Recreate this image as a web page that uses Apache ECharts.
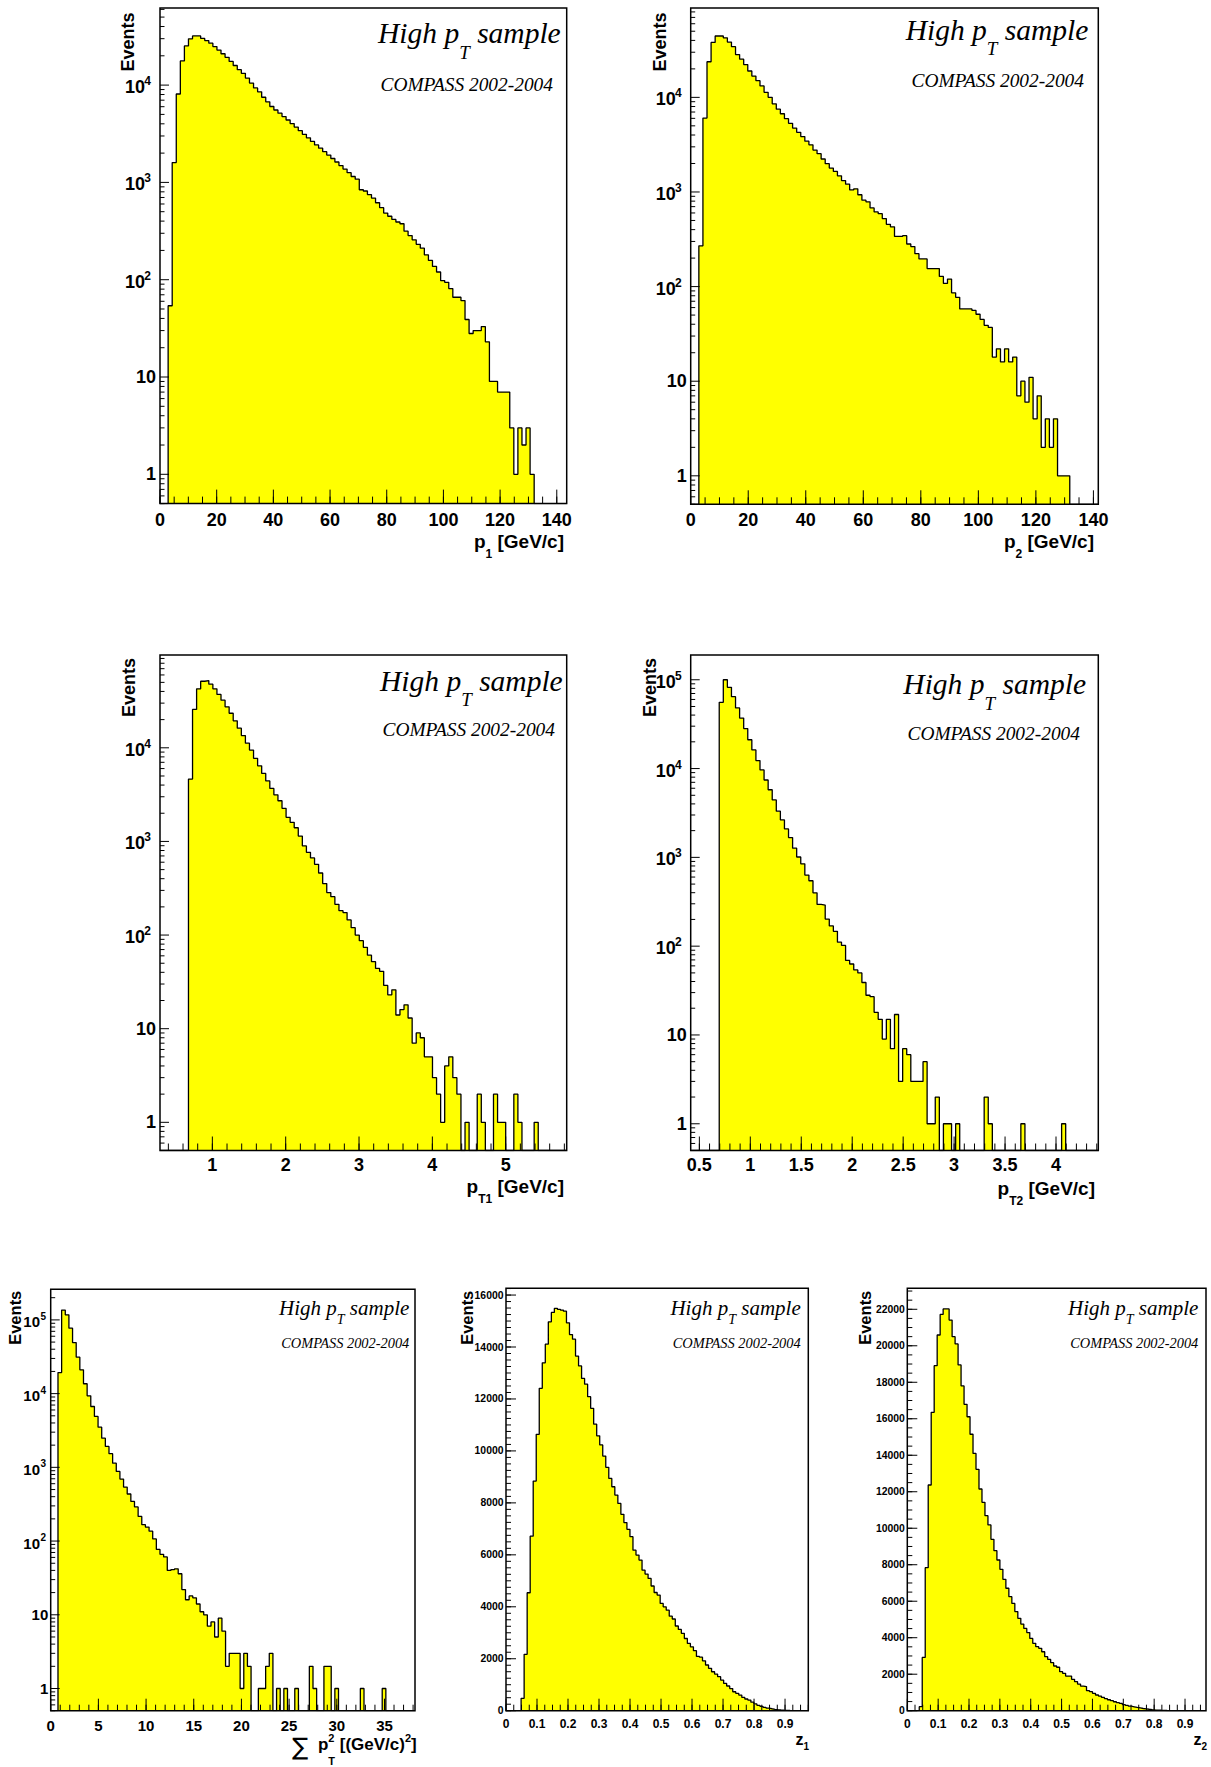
<!DOCTYPE html>
<html>
<head>
<meta charset="utf-8">
<title>High pT sample - COMPASS 2002-2004</title>
<script src="https://cdn.jsdelivr.net/npm/echarts@6/dist/echarts.min.js"></script>
<style>
html,body{margin:0;padding:0;background:#ffffff;}
#chart{width:1211px;height:1767px;}
</style>
</head>
<body>
<div id="chart"></div>
<script>
// ================= DATA (100 bins per histogram) =================
const p1Counts = [
  0, 0, 54, 1600, 8100, 17700, 25300, 29900, 32000, 32000,
  30200, 28700, 27000, 24900, 22900, 21000, 19300, 17500, 15900, 14400,
  13200, 11800, 10500, 9350, 8520, 7500, 6730, 6030, 5550, 5150,
  4750, 4380, 4020, 3700, 3400, 3120, 2870, 2640, 2430, 2250,
  2070, 1910, 1760, 1620, 1490, 1370, 1260, 1150, 1080, 840,
  816, 750, 690, 618, 550, 484, 449, 416, 392, 376,
  315, 284, 257, 231, 211, 180, 158, 137, 120, 98,
  94, 81, 66, 66, 61, 39, 28, 30, 30, 33,
  23, 9, 9, 7, 7, 7, 3, 1, 3, 2,
  3, 1, 0, 0, 0, 0, 0, 0, 0, 0
];
const p2Counts = [
  0, 0, 270, 6040, 23800, 38100, 44500, 44500, 42600, 38400,
  34300, 28300, 25300, 22200, 19000, 16800, 15000, 13200, 11300, 10000,
  8550, 7510, 6710, 5950, 5310, 4740, 4270, 3850, 3440, 3150,
  2770, 2540, 2230, 1990, 1790, 1650, 1480, 1320, 1210, 1050,
  1080, 935, 820, 786, 678, 616, 590, 523, 455, 428,
  339, 339, 345, 282, 265, 223, 196, 196, 155, 155,
  155, 128, 108, 120, 86, 77, 58, 58, 58, 56,
  51, 45, 39, 37, 18, 22, 16, 22, 16, 18,
  7, 10, 6, 11, 4, 7, 2, 4, 2, 4,
  1, 1, 1, 0, 0, 0, 0, 0, 0, 0
];
const pT1Counts = [
  0, 0, 0, 0, 0, 0, 0, 4640, 25700, 42700,
  51400, 52300, 47800, 42700, 37200, 32300, 27400, 23400, 19400, 16200,
  13500, 11200, 9460, 7730, 6420, 5330, 4430, 3680, 3150, 2720,
  2260, 1810, 1600, 1400, 1140, 895, 765, 666, 569, 460,
  355, 284, 257, 213, 182, 174, 145, 120, 100, 87,
  74, 61, 52, 44, 41, 29, 23, 26, 14, 16,
  18, 13, 7, 9, 8, 5, 5, 3, 2, 1,
  4, 5, 3, 2, 0, 1, 0, 0, 2, 1,
  0, 0, 2, 1, 1, 0, 0, 2, 1, 0,
  0, 0, 1, 0, 0, 0, 0, 0, 0, 0
];
const pT2Counts = [
  0, 0, 0, 0, 0, 0, 0, 55700, 100000, 82200,
  64500, 48200, 37000, 28200, 21100, 16200, 12300, 9660, 7430, 5770,
  4430, 3310, 2640, 2090, 1670, 1270, 1010, 845, 631, 545,
  399, 295, 290, 202, 169, 147, 111, 102, 69, 63,
  54, 50, 39, 28, 27, 18, 15, 9, 15, 7,
  17, 3, 7, 6, 3, 3, 3, 5, 1, 1,
  2, 0, 1, 1, 0, 1, 0, 0, 0, 0,
  0, 0, 2, 1, 0, 0, 0, 0, 0, 0,
  0, 1, 0, 0, 0, 0, 0, 0, 0, 0,
  0, 1, 0, 0, 0, 0, 0, 0, 0, 0
];
const sumPT2Counts = [
  0, 0, 19300, 136000, 117000, 77100, 49300, 31200, 21000, 13600,
  9330, 6690, 4900, 3510, 2490, 1920, 1530, 1140, 881, 693,
  540, 435, 345, 290, 216, 167, 155, 136, 107, 77,
  66, 61, 40, 41, 42, 36, 22, 16, 18, 17,
  14, 11, 10, 7, 8, 5, 9, 6, 2, 3,
  3, 3, 1, 3, 2, 0, 0, 1, 1, 2,
  3, 0, 1, 0, 1, 0, 0, 1, 0, 0,
  0, 2, 1, 0, 0, 2, 2, 0, 1, 0,
  0, 0, 0, 0, 0, 1, 0, 0, 0, 0,
  0, 1, 0, 0, 0, 0, 0, 0, 0, 0
];
const z1Counts = [
  0, 0, 0, 0, 0, 475, 2170, 4540, 6720, 8840,
  10640, 12410, 13390, 14110, 14970, 15330, 15490, 15450, 15420, 15380,
  14930, 14480, 14300, 13650, 13270, 12790, 12570, 12090, 11640, 11030,
  10580, 10230, 9800, 9370, 8940, 8620, 8300, 7980, 7560, 7240,
  6980, 6700, 6180, 5990, 5800, 5410, 5260, 5090, 4800, 4550,
  4450, 4130, 4000, 3870, 3640, 3530, 3260, 3130, 2980, 2780,
  2590, 2460, 2310, 2090, 2060, 1920, 1760, 1630, 1500, 1410,
  1310, 1180, 1050, 950, 850, 730, 670, 600, 510, 450,
  410, 330, 260, 205, 170, 130, 100, 75, 55, 40,
  28, 18, 12, 7, 4, 2, 1, 0, 0, 0
];
const z2Counts = [
  0, 0, 0, 0, 220, 2920, 7840, 12370, 16350, 18910,
  20590, 21720, 22020, 22020, 21410, 20500, 20100, 18950, 17800, 16790,
  16110, 15150, 14100, 13230, 12150, 11420, 10690, 10180, 9390, 8770,
  8260, 7750, 7200, 6710, 6250, 5880, 5430, 5060, 4750, 4510,
  4280, 3960, 3690, 3510, 3420, 3230, 2960, 2810, 2630, 2450,
  2380, 2140, 2050, 1900, 1900, 1720, 1590, 1460, 1350, 1320,
  1100, 1040, 950, 860, 800, 730, 660, 600, 550, 490,
  440, 400, 330, 290, 250, 215, 180, 150, 120, 100,
  80, 62, 48, 36, 26, 18, 12, 8, 5, 3,
  2, 1, 0, 0, 0, 0, 0, 0, 0, 0
];

// histogram ranges (axis min / max, in data units)
const p1Range = [0, 143.5];
const p2Range = [0, 141.7];
const pT1Range = [0.286, 5.832];
const pT2Range = [0.415, 4.415];
const sumPT2Range = [0, 38.2];
const z1Range = [0, 0.975];
const z2Range = [0, 0.968];

// y ranges
const p1YRange = [0.5, 62000];
const p2YRange = [0.5, 88000];
const pT1YRange = [0.5, 98000];
const pT2YRange = [0.5, 190000];
const sumPT2YRange = [0.5, 260000];
const z1YRange = [0, 16260];
const z2YRange = [0, 23150];

// tick labels
const pXLabels = [0, 20, 40, 60, 80, 100, 120, 140];
const pT1XLabels = [1, 2, 3, 4, 5];
const pT2XLabels = [0.5, 1, 1.5, 2, 2.5, 3, 3.5, 4];
const sumXLabels = [0, 5, 10, 15, 20, 25, 30, 35];
const zXLabels = [0, 0.1, 0.2, 0.3, 0.4, 0.5, 0.6, 0.7, 0.8, 0.9];
const log4Labels = [1, 10, 100, 1000, 10000];
const log5Labels = [1, 10, 100, 1000, 10000, 100000];
const z1YLabels = [0, 2000, 4000, 6000, 8000, 10000, 12000, 14000, 16000];
const z2YLabels = [0, 2000, 4000, 6000, 8000, 10000, 12000, 14000, 16000, 18000, 20000, 22000];

// ================= STYLE / LAYOUT =================
const SANS = '"Liberation Sans", Arial, Helvetica, sans-serif';
const SERIF = '"Liberation Serif", "Times New Roman", Times, serif';
const sansB = px => 'bold ' + px + 'px ' + SANS;
const serifI = px => 'italic ' + px + 'px ' + SERIF;

const BIG = {xLab: 18, yLab: 18, ySup: 12, xMaj: 14, xMin: 7, yMaj: 9, yMin: 4.5,
  expMainGap: 15, expSupGap: 9, plainGap: 4, mainDy: 2, supDy: -4,
  titleFs: 29.5, titleSub: 19, titleSubDy: 15, collFs: 19.4, eventsFs: 18};
const SMALL = {xLab: 15, yLab: 15, ySup: 10, xMaj: 12, xMin: 6, yMaj: 9, yMin: 4.5,
  expMainGap: 10.7, expSupGap: 4.7, plainGap: 2.4, mainDy: 2, supDy: -3.5,
  titleFs: 21, titleSub: 14, titleSubDy: 9, collFs: 14.4, eventsFs: 16.5};
const LIN = {xLab: 12, yLab: 10.4, xMaj: 12, xMin: 6, yMaj: 10, yMin: 5,
  plainGap: 2.5, titleFs: 21, titleSub: 14, titleSubDy: 9, collFs: 14.4, eventsFs: 16.5};

function xTitleSegs(kind) {
  const f = sansB(19), s = sansB(12);
  if (kind === 'p1' || kind === 'p2') return [
    {t: 'p', font: f, size: 19}, {t: kind === 'p1' ? '1' : '2', font: s, size: 12, dy: 10},
    {t: ' [GeV/c]', font: f, size: 19}];
  if (kind === 'pT1' || kind === 'pT2') return [
    {t: 'p', font: f, size: 19}, {t: kind === 'pT1' ? 'T1' : 'T2', font: s, size: 12, dy: 10},
    {t: ' [GeV/c]', font: f, size: 19}];
  if (kind === 'sum') return [
    {t: '\u2211', font: '24px "DejaVu Sans", sans-serif', size: 24, dy: 5},
    {t: '  p', font: sansB(17), size: 17},
    {t: '2', font: sansB(11), size: 11, dy: -9, stack: true},
    {t: 'T', font: sansB(11), size: 11, dy: 14},
    {t: ' [(GeV/c)', font: sansB(17), size: 17},
    {t: '2', font: sansB(11), size: 11, dy: -9},
    {t: ']', font: sansB(17), size: 17}];
  // z1 / z2
  return [{t: 'z', font: sansB(16), size: 16}, {t: kind === 'z1' ? '1' : '2', font: sansB(10), size: 10, dy: 5}];
}

const panels = [
  {counts: p1Counts, xr: p1Range, yr: p1YRange, log: true, rect: [160, 8, 406.7, 495.6],
   xMajorStep: 20, xMinorStep: 5, xLabels: pXLabels, yLabels: log4Labels, st: BIG, xLabOff: 16,
   title: [560.7, 43.6], coll: [553, 91], events: [128.4, 12.5], xTitle: [564, 548, 'p1']},
  {counts: p2Counts, xr: p2Range, yr: p2YRange, log: true, rect: [690.7, 8, 407.6, 496.3],
   xMajorStep: 20, xMinorStep: 5, xLabels: pXLabels, yLabels: log4Labels, st: BIG, xLabOff: 16,
   title: [1088.3, 40], coll: [1084, 87.5], events: [659.7, 12.5], xTitle: [1094, 548, 'p2']},
  {counts: pT1Counts, xr: pT1Range, yr: pT1YRange, log: true, rect: [160, 655, 406.7, 495.5],
   xMajorStep: 1, xMinorStep: 0.2, xLabels: pT1XLabels, yLabels: log4Labels, st: BIG, xLabOff: 14.5,
   title: [562.7, 690.8], coll: [555, 735.9], events: [128.8, 658], xTitle: [564, 1193, 'pT1']},
  {counts: pT2Counts, xr: pT2Range, yr: pT2YRange, log: true, rect: [690.7, 655, 407.6, 495.5],
   xMajorStep: 0.5, xMinorStep: 0.1, xLabels: pT2XLabels, yLabels: log5Labels, st: BIG, xLabOff: 14.5,
   title: [1086, 694.6], coll: [1080, 739.7], events: [649.7, 658], xTitle: [1095, 1195, 'pT2']},
  {counts: sumPT2Counts, xr: sumPT2Range, yr: sumPT2YRange, log: true, rect: [50.7, 1289.3, 364.3, 421.4],
   xMajorStep: 5, xMinorStep: 1, xLabels: sumXLabels, yLabels: log5Labels, st: SMALL, xLabOff: 14.5,
   title: [409.3, 1315], coll: [409.3, 1347.7], events: [15, 1290.7], xTitle: [416.7, 1750.7, 'sum']},
  {counts: z1Counts, xr: z1Range, yr: z1YRange, log: false, rect: [506, 1288.3, 302.3, 422.4],
   xMajorStep: 0.1, xMinorStep: 0.025, yMajorStep: 2000, yMinorStep: 250,
   xLabels: zXLabels, yLabels: z1YLabels, st: LIN, xLabOff: 13.3,
   title: [800.7, 1315], coll: [800.7, 1347.7], events: [466.7, 1290.7], xTitle: [809, 1745, 'z1']},
  {counts: z2Counts, xr: z2Range, yr: z2YRange, log: false, rect: [907.3, 1288.3, 298.7, 422.4],
   xMajorStep: 0.1, xMinorStep: 0.025, yMajorStep: 2000, yMinorStep: 500,
   xLabels: zXLabels, yLabels: z2YLabels, st: LIN, xLabOff: 13.3,
   title: [1198.3, 1315], coll: [1198.3, 1347.7], events: [865, 1290.7], xTitle: [1207, 1745, 'z2']}
];

// ================= HELPERS =================
const mctx = document.createElement('canvas').getContext('2d');
function measure(text, font) { mctx.font = font; return mctx.measureText(text).width; }

function ticksLinear(min, max, step) {
  const out = [];
  const k0 = Math.ceil(min / step - 1e-9), k1 = Math.floor(max / step + 1e-9);
  for (let k = k0; k <= k1; k++) out.push(+(k * step).toFixed(8));
  return out;
}
function ticksLog(min, max) {
  const major = [], minor = [];
  for (let d = Math.floor(Math.log10(min)); d <= Math.ceil(Math.log10(max)); d++) {
    for (let m = 1; m <= 9; m++) {
      const v = +(m * Math.pow(10, d)).toPrecision(6);
      if (v >= min && v <= max) (m === 1 ? major : minor).push(v);
    }
  }
  return {major, minor};
}
function txtStyle(text, font, align) {
  return {text: text, font: font, fill: '#000', align: align, textAlign: align,
          verticalAlign: 'middle', textVerticalAlign: 'middle'};
}
function run(rightX, baseY, segs) {
  let total = 0;
  segs.forEach(s => { s.w = measure(s.t, s.font); if (!s.stack) total += s.w; });
  let x = rightX - total;
  const out = [];
  segs.forEach(s => {
    out.push({type: 'text', x: x, y: baseY + (s.dy || 0) - 0.345 * s.size, z: 100, silent: true,
              style: txtStyle(s.t, s.font, 'left')});
    if (!s.stack) x += s.w;
  });
  return out;
}

function tickRender(params, api) {
  const p = api.coord([api.value(0), api.value(1)]);
  const len = api.value(2), dir = api.value(3);
  const shape = dir === 0
    ? {x1: p[0], y1: p[1], x2: p[0], y2: p[1] - len}
    : {x1: p[0], y1: p[1], x2: p[0] + len, y2: p[1]};
  return {type: 'line', shape: shape, style: {stroke: '#000', lineWidth: 1}};
}

// ================= OPTION =================
const option = {animation: false, backgroundColor: '#ffffff',
  grid: [], xAxis: [], yAxis: [], series: [], graphic: []};

panels.forEach((P, i) => {
  const [L, T, W, H] = P.rect;
  const st = P.st;
  option.grid.push({left: L, top: T, width: W, height: H, show: false, containLabel: false});
  option.xAxis.push({type: 'value', gridIndex: i, min: P.xr[0], max: P.xr[1],
    axisLine: {show: false}, axisTick: {show: false}, axisLabel: {show: false}, splitLine: {show: false}});
  option.yAxis.push({type: P.log ? 'log' : 'value', logBase: 10, gridIndex: i, min: P.yr[0], max: P.yr[1],
    axisLine: {show: false}, axisTick: {show: false}, axisLabel: {show: false}, splitLine: {show: false}});

  // --- histogram (filled step outline) ---
  const n = P.counts.length, bw = (P.xr[1] - P.xr[0]) / n, yBase = P.yr[0];
  const pts = P.counts.map((c, k) => [P.xr[0] + k * bw, c > 0 ? c : yBase]);
  pts.push([P.xr[1], P.counts[n - 1] > 0 ? P.counts[n - 1] : yBase]);
  option.series.push({type: 'line', xAxisIndex: i, yAxisIndex: i, data: pts, step: 'end',
    symbol: 'none', showSymbol: false, silent: true, clip: true, z: 2,
    lineStyle: {color: '#000', width: 1.3},
    areaStyle: {color: '#ffff00', opacity: 1, origin: 'start'}});

  // --- ticks (inside, bottom + left) ---
  const tickData = [];
  ticksLinear(P.xr[0], P.xr[1], P.xMinorStep).forEach(v => tickData.push([v, yBase, st.xMin, 0]));
  ticksLinear(P.xr[0], P.xr[1], P.xMajorStep).forEach(v => tickData.push([v, yBase, st.xMaj, 0]));
  if (P.log) {
    const t = ticksLog(P.yr[0], P.yr[1]);
    t.minor.forEach(v => tickData.push([P.xr[0], v, st.yMin, 1]));
    t.major.forEach(v => tickData.push([P.xr[0], v, st.yMaj, 1]));
  } else {
    ticksLinear(P.yr[0], P.yr[1], P.yMinorStep).forEach(v => tickData.push([P.xr[0], v, st.yMin, 1]));
    ticksLinear(P.yr[0], P.yr[1], P.yMajorStep).forEach(v => tickData.push([P.xr[0], v, st.yMaj, 1]));
  }
  option.series.push({type: 'custom', xAxisIndex: i, yAxisIndex: i, data: tickData,
    dimensions: ['x', 'y', 'len', 'dir'], encode: {x: 0, y: 1},
    renderItem: tickRender, clip: false, silent: true, z: 5});

  // --- tick labels ---
  const labSpec = [], labData = [];
  P.xLabels.forEach(v => { labData.push([v, yBase, labSpec.length]); labSpec.push({axis: 'x', text: String(v)}); });
  P.yLabels.forEach(v => {
    labData.push([P.xr[0], v, labSpec.length]);
    if (P.log && v >= 100) labSpec.push({axis: 'y', text: '10', exp: String(Math.round(Math.log10(v)))});
    else labSpec.push({axis: 'y', text: String(v)});
  });
  option.series.push({type: 'custom', xAxisIndex: i, yAxisIndex: i, data: labData,
    dimensions: ['x', 'y', 'idx'], encode: {x: 0, y: 1}, clip: false, silent: true, z: 6,
    renderItem: (params, api) => {
      const s = labSpec[api.value(2)];
      const p = api.coord([api.value(0), api.value(1)]);
      if (s.axis === 'x') {
        return {type: 'text', x: p[0], y: p[1] + P.xLabOff, style: txtStyle(s.text, sansB(st.xLab), 'center')};
      }
      if (s.exp) {
        return {type: 'group', children: [
          {type: 'text', x: p[0] - st.expMainGap, y: p[1] + st.mainDy, style: txtStyle('10', sansB(st.yLab), 'right')},
          {type: 'text', x: p[0] - st.expSupGap, y: p[1] + st.supDy, style: txtStyle(s.exp, sansB(st.ySup), 'right')}
        ]};
      }
      return {type: 'text', x: p[0] - st.plainGap, y: p[1], style: txtStyle(s.text, sansB(st.yLab), 'right')};
    }});

  // --- frame ---
  option.graphic.push({type: 'rect', z: 100, silent: true, shape: {x: L, y: T, width: W, height: H},
    style: {fill: 'none', stroke: '#000', lineWidth: 1.5}});

  // --- texts ---
  run(P.title[0], P.title[1], [
    {t: 'High p', font: serifI(st.titleFs), size: st.titleFs},
    {t: 'T', font: serifI(st.titleSub), size: st.titleSub, dy: st.titleSubDy},
    {t: ' sample', font: serifI(st.titleFs), size: st.titleFs}
  ]).forEach(e => option.graphic.push(e));
  run(P.coll[0], P.coll[1], [{t: 'COMPASS 2002-2004', font: serifI(st.collFs), size: st.collFs}])
    .forEach(e => option.graphic.push(e));
  option.graphic.push({type: 'text', x: P.events[0], y: P.events[1], rotation: Math.PI / 2, z: 100, silent: true,
    style: txtStyle('Events', sansB(st.eventsFs), 'right')});
  run(P.xTitle[0], P.xTitle[1], xTitleSegs(P.xTitle[2])).forEach(e => option.graphic.push(e));
});

const chart = echarts.init(document.getElementById('chart'), null, {renderer: 'svg', width: 1211, height: 1767});
chart.setOption(option);
</script>
</body>
</html>
